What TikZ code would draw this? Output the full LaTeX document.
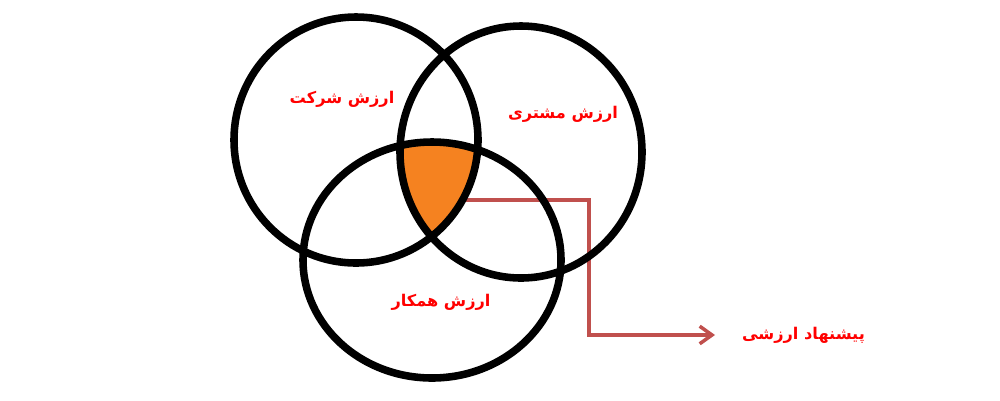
\documentclass[tikz,border=0pt]{standalone}
\usepackage{fontspec}
\newfontfamily\arabicfont[Script=Arabic]{DejaVu Sans}
\TeXXeTstate=1
\usetikzlibrary{calc,arrows.meta}
\definecolor{offerorange}{RGB}{245,130,32}
\definecolor{linkred}{RGB}{192,80,77}
\tikzset{
	ring/.style={line width=4.3pt, draw=black},
	valuelabel/.style={text=red, inner sep=1pt, font=\arabicfont\bfseries\fontsize{9.2}{11}\selectfont},
	link/.style={line width=2pt, draw=linkred, -{Straight Barb[length=7pt, width=10pt]}}
}
\begin{document}
\begin{tikzpicture}[x=0.02cm, y=-0.02cm]
			%%%%% START %%%%%
			\useasboundingbox (0, 0) rectangle (1000, 400);
			
			\coordinate (company) at (356, 140);
			\coordinate (customer) at (521, 152);
			\coordinate (partner) at (432, 260);
			
			\begin{scope}
				\clip (company) ellipse (122 and 123);
				\clip (customer) ellipse (121 and 126);
				\fill[offerorange] (partner) ellipse (129 and 118);
			\end{scope}
			
			\node[valuelabel] (companylabel) at (342, 99) {\beginR ارزش شرکت\endR};
			\node[valuelabel] (customerlabel) at (563, 114) {\beginR ارزش مشتری\endR};
			\node[valuelabel] (partnerlabel) at (441, 302) {\beginR ارزش همکار\endR};
			\node[valuelabel, anchor=west] (offerlabel) at (740, 335) {\beginR پیشنهاد ارزشی\endR};
			
			\coordinate (offer) at (463, 200);
			\coordinate (bend) at (589, 200);
			\draw[link, shorten >=0.5cm] (offer) -- (bend) |- (offerlabel.west);
			
			\draw[ring] (company) ellipse (122 and 123);
			\draw[ring] (customer) ellipse (121 and 126);
			\draw[ring] (partner) ellipse (129 and 118);
			
			%%%%% END %%%%%
\end{tikzpicture}
\end{document}
